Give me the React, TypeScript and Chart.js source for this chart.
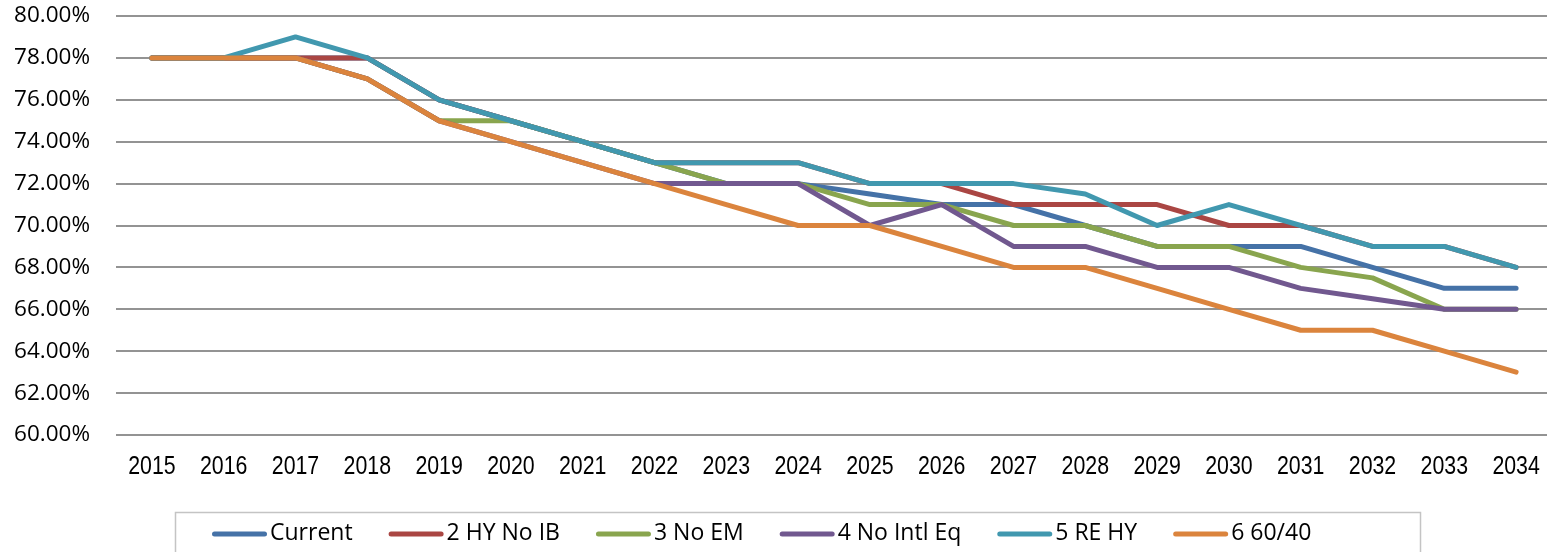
import React, { useEffect, useRef } from "react";
import { Chart, registerables } from "chart.js";

Chart.register(...registerables);

const categories = ["2015","2016","2017","2018","2019","2020","2021","2022","2023","2024","2025","2026","2027","2028","2029","2030","2031","2032","2033","2034"];

const seriesNames = ["Current", "2 HY No IB", "3 No EM", "4 No Intl Eq", "5 RE HY", "6 60/40"];
const current = [78,78,78,78,76,75,74,73,72,72,71.5,71,71,70,69,69,69,68,67,67];
const hyNoIb = [78,78,78,78,76,75,74,73,73,73,72,72,71,71,71,70,70,69,69,68];
const noEm = [78,78,78,77,75,75,74,73,72,72,71,71,70,70,69,69,68,67.5,66,66];
const noIntlEq = [78,78,78,77,75,74,73,72,72,72,70,71,69,69,68,68,67,66.5,66,66];
const reHy = [78,78,79,78,76,75,74,73,73,73,72,72,72,71.5,70,71,70,69,69,68];
const sixtyForty = [78,78,78,77,75,74,73,72,71,70,70,69,68,68,67,66,65,65,64,63];
const seriesValues = [current, hyNoIb, noEm, noIntlEq, reHy, sixtyForty];
const seriesColors = ["#4572A7", "#AA4643", "#89A54E", "#71588F", "#4198AF", "#DB843D"];

const yMin = 60;
const yMax = 80;
const yStep = 2;

const legendPlugin = {
  id: "boxLegend",
  afterDraw(chart: any) {
    const ctx = chart.ctx;
    ctx.save();
    ctx.strokeStyle = "#c4c4c4";
    ctx.lineWidth = 1.5;
    ctx.strokeRect(175.5, 512.5, 1245, 120);
    ctx.font = "23px 'Open Sans'";
    ctx.textBaseline = "middle";
    ctx.textAlign = "left";
    let x = 212;
    const y = 533;
    chart.data.datasets.forEach((ds: any) => {
      ctx.strokeStyle = ds.borderColor;
      ctx.lineWidth = 5;
      ctx.lineCap = "round";
      ctx.beginPath();
      ctx.moveTo(x + 2.5, y + 1);
      ctx.lineTo(x + 52.5, y + 1);
      ctx.stroke();
      ctx.fillStyle = "#000";
      ctx.fillText(ds.label, x + 58, y);
      x += 58 + ctx.measureText(ds.label).width + 36;
    });
    ctx.restore();
  },
};

const xLabelPlugin = {
  id: "condensedXLabels",
  afterDraw(chart: any) {
    const ctx = chart.ctx;
    const xs = chart.scales.x;
    ctx.save();
    ctx.font = "26px 'Liberation Sans'";
    ctx.fillStyle = "#000";
    ctx.textAlign = "center";
    ctx.textBaseline = "middle";
    const squeeze = 0.82;
    chart.data.labels.forEach((lab: string, i: number) => {
      const px = xs.getPixelForTick(i);
      ctx.save();
      ctx.translate(px, 467);
      ctx.scale(squeeze, 1);
      ctx.fillText(lab, 0, 0);
      ctx.restore();
    });
    ctx.restore();
  },
};

export default function App() {
  const ref = useRef<HTMLCanvasElement>(null);
  useEffect(() => {
    document.body.style.margin = "0";
    document.body.style.overflow = "hidden";
    const canvas = ref.current!;
    const chart = new Chart(canvas, {
      type: "line",
      data: {
        labels: categories,
        datasets: seriesValues.map((vals, i) => ({
          label: seriesNames[i],
          data: vals,
          borderColor: seriesColors[i],
          backgroundColor: seriesColors[i],
          borderWidth: 5,
          pointRadius: 0,
          tension: 0,
          borderCapStyle: "round" as const,
          borderJoinStyle: "round" as const,
          order: seriesValues.length - i,
        })),
      },
      options: {
        responsive: false,
        animation: false,
        layout: { padding: { top: 16, right: 0, bottom: 0, left: 0 } },
        plugins: { legend: { display: false }, tooltip: { enabled: false } },
        scales: {
          x: {
            offset: true,
            grid: { display: false, drawTicks: false },
            border: { display: false },
            ticks: { display: false, autoSkip: false },
            afterFit(scale: any) {
              scale.height = 125;
              scale.paddingLeft = 0;
              scale.paddingRight = 0;
            },
          },
          y: {
            min: yMin,
            max: yMax,
            grid: { color: "#939393", lineWidth: 2, drawTicks: false },
            border: { display: false },
            ticks: {
              stepSize: yStep,
              color: "#000",
              padding: 26,
              font: { family: "'Open Sans'", size: 22.5 },
              callback: (v: any) => Number(v).toFixed(2) + "%",
            },
            afterFit(scale: any) {
              scale.width = 116;
              scale.paddingTop = 0;
              scale.paddingBottom = 0;
            },
          },
        },
      },
      plugins: [xLabelPlugin, legendPlugin],
    });
    return () => chart.destroy();
  }, []);
  return <canvas ref={ref} width={1552} height={560} style={{ display: "block", width: 1552, height: 560 }} />;
}
